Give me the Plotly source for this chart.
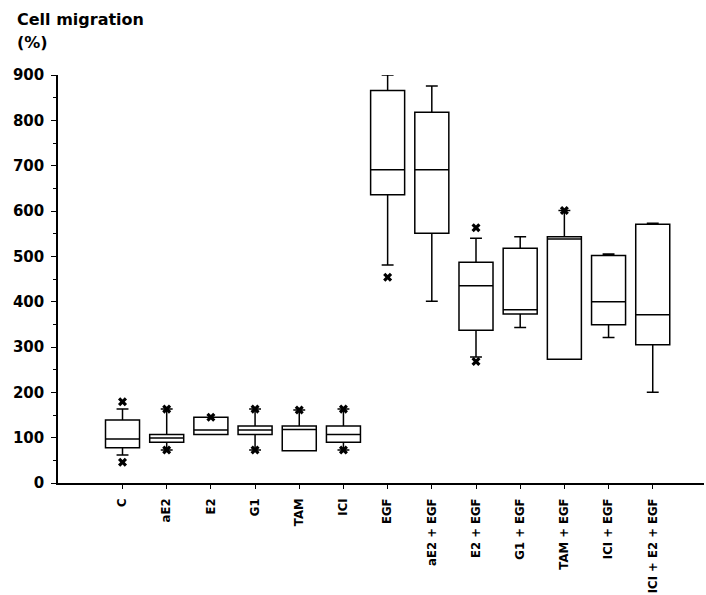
import plotly.graph_objects as go

categories = ["C", "aE2", "E2", "G1", "TAM", "ICI", "EGF", "aE2 + EGF", "E2 + EGF",
              "G1 + EGF", "TAM + EGF", "ICI + EGF", "ICI + E2 + EGF"]
q1 =         [78, 90, 107, 107, 71, 90, 636, 551, 337, 373, 273, 349, 305]
median =     [97, 99, 117, 117, 118, 107, 691, 691, 435, 382, 538, 400, 371]
q3 =         [139, 107, 145, 126, 126, 126, 866, 818, 487, 518, 543, 502, 571]
lowerfence = [62, 73, 107, 73, 71, 73, 481, 401, 278, 343, 273, 321, 200]
upperfence = [163, 163, 145, 163, 161, 163, 900, 876, 540, 543, 601, 505, 573]

outlier_cat = ["C", "C", "aE2", "aE2", "E2", "G1", "G1", "TAM", "ICI", "ICI",
               "EGF", "E2 + EGF", "E2 + EGF", "TAM + EGF"]
outlier_val = [179, 46, 163, 73, 145, 163, 73, 161, 163, 73,
               454, 563, 268, 601]

xpos = list(range(len(categories)))
idx = {c: i for i, c in enumerate(categories)}

fig = go.Figure()
fig.add_trace(go.Box(
    x=xpos, q1=q1, median=median, q3=q3,
    lowerfence=lowerfence, upperfence=upperfence,
    width=0.77, whiskerwidth=0.35,
    fillcolor="white", line=dict(color="black", width=1.5),
    boxpoints=False, showlegend=False, hoverinfo="skip",
))
fig.add_trace(go.Scatter(
    x=[idx[c] for c in outlier_cat], y=outlier_val, mode="markers",
    marker=dict(symbol="x", size=8, color="black", line=dict(width=0)),
    showlegend=False, cliponaxis=False,
))

font_family = "DejaVu Sans"
fig.update_layout(
    width=706, height=595,
    margin=dict(l=58, r=2, t=75, b=112),
    plot_bgcolor="white", paper_bgcolor="white",
    font=dict(family=font_family, color="black"),
    xaxis=dict(
        range=[-1.46, 13.16], tickmode="array", tickvals=xpos, ticktext=categories,
        tickangle=-90, ticks="outside", ticklen=4, tickwidth=1, tickcolor="black",
        ticklabelstandoff=5, automargin=False,
        showline=True, linecolor="black", linewidth=1.5, showgrid=False, zeroline=False,
        tickfont=dict(family=font_family, size=11.7, weight="bold", color="black"),
    ),
    yaxis=dict(
        range=[0, 900], tickmode="linear", tick0=0, dtick=100,
        ticks="outside", ticklen=5, tickwidth=1, tickcolor="black",
        ticklabelstandoff=4, automargin=False,
        minor=dict(ticks="outside", dtick=50, ticklen=3, tickcolor="black"),
        showline=True, linecolor="black", linewidth=1.5, showgrid=False, zeroline=False,
        tickfont=dict(family=font_family, size=15, weight="bold", color="black"),
    ),
    annotations=[
        dict(text="Cell migration", x=-43/646, y=1 + 67/408, xref="paper", yref="paper",
             showarrow=False, xanchor="left", yanchor="top",
             font=dict(family=font_family, size=16, weight="bold", color="black")),
        dict(text="(%)", x=-43/646, y=1 + 44/408, xref="paper", yref="paper",
             showarrow=False, xanchor="left", yanchor="top",
             font=dict(family=font_family, size=16, weight="bold", color="black")),
    ],
)
fig.write_html("out.html")
